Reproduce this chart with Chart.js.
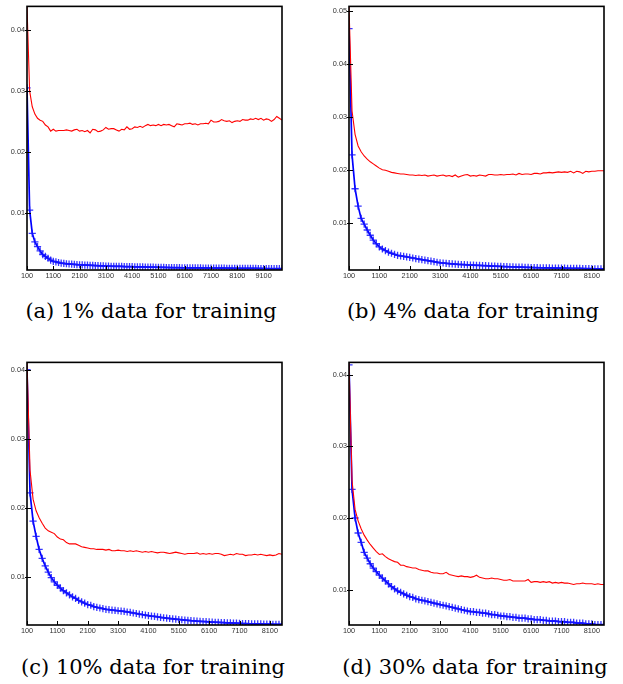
<!DOCTYPE html>
<html>
<head>
<meta charset="utf-8">
<script src="https://cdn.jsdelivr.net/npm/chart.js@4.4.1/dist/chart.umd.min.js"></script>
<style>
  html, body { margin: 0; padding: 0; background: #fff; }
  #wrap { position: relative; width: 623px; height: 684px; overflow: hidden; }
  canvas { position: absolute; }
  .cap { position: absolute; width: 320px; text-align: center; font-family: "DejaVu Serif", serif; font-size: 21px; line-height: 24px; color: #000; white-space: nowrap; }
</style>
</head>
<body>
<div id="wrap">
  <canvas id="ca" width="300" height="290" style="left:0px;top:0px"></canvas>
  <canvas id="cb" width="300" height="290" style="left:322px;top:0px"></canvas>
  <canvas id="cc" width="300" height="290" style="left:0px;top:356px"></canvas>
  <canvas id="cd" width="300" height="290" style="left:322px;top:356px"></canvas>
  <div class="cap" style="left:-9px;top:299px">(a) 1% data for training</div>
  <div class="cap" style="left:313px;top:299px">(b) 4% data for training</div>
  <div class="cap" style="left:-7px;top:655px">(c) 10% data for training</div>
  <div class="cap" style="left:315px;top:655px">(d) 30% data for training</div>
</div>
<script>
// ---------- x positions (iterations) ----------
const xA = [100,200,300,400,500,600,700,800,900,1000,
  1100,1200,1300,1400,1500,1600,1700,1800,1900,2000,
  2100,2200,2300,2400,2500,2600,2700,2800,2900,3000,
  3100,3200,3300,3400,3500,3600,3700,3800,3900,4000,
  4100,4200,4300,4400,4500,4600,4700,4800,4900,5000,
  5100,5200,5300,5400,5500,5600,5700,5800,5900,6000,
  6100,6200,6300,6400,6500,6600,6700,6800,6900,7000,
  7100,7200,7300,7400,7500,7600,7700,7800,7900,8000,
  8100,8200,8300,8400,8500,8600,8700,8800,8900,9000,
  9100,9200,9300,9400,9500,9600,9700,9800];
const xBCD = [100,200,300,400,500,600,700,800,900,1000,
  1100,1200,1300,1400,1500,1600,1700,1800,1900,2000,
  2100,2200,2300,2400,2500,2600,2700,2800,2900,3000,
  3100,3200,3300,3400,3500,3600,3700,3800,3900,4000,
  4100,4200,4300,4400,4500,4600,4700,4800,4900,5000,
  5100,5200,5300,5400,5500,5600,5700,5800,5900,6000,
  6100,6200,6300,6400,6500,6600,6700,6800,6900,7000,
  7100,7200,7300,7400,7500,7600,7700,7800,7900,8000,
  8100,8200,8300,8400,8500];

// ---------- tick labels ----------
const xTicksA = [100,1100,2100,3100,4100,5100,6100,7100,8100,9100];
const xTicksBCD = [100,1100,2100,3100,4100,5100,6100,7100,8100];
const yTicksA = [0.01,0.02,0.03,0.04];
const yTicksB = [0.01,0.02,0.03,0.04,0.05];
const yTicksC = [0.01,0.02,0.03,0.04];
const yTicksD = [0.01,0.02,0.03,0.04];

// ---------- (a) 1% ----------
const redA = [0.0439,0.0300,0.0274,0.0262,0.0255,0.0252,0.0250,0.0244,0.0241,0.0234,
  0.0237,0.0234,0.0235,0.0235,0.0235,0.0236,0.0235,0.0234,0.0236,0.0237,
  0.0234,0.0235,0.0233,0.0235,0.0231,0.0237,0.0236,0.0233,0.0234,0.0236,
  0.0240,0.0237,0.0238,0.0238,0.0236,0.0234,0.0237,0.0236,0.0241,0.0237,
  0.0238,0.0241,0.0240,0.0242,0.0240,0.0243,0.0245,0.0243,0.0244,0.0243,
  0.0245,0.0243,0.0245,0.0244,0.0245,0.0243,0.0241,0.0246,0.0245,0.0244,
  0.0246,0.0246,0.0247,0.0245,0.0246,0.0244,0.0246,0.0246,0.0247,0.0246,
  0.0252,0.0249,0.0249,0.0250,0.0253,0.0251,0.0250,0.0251,0.0248,0.0250,
  0.0251,0.0250,0.0253,0.0252,0.0252,0.0254,0.0253,0.0255,0.0253,0.0255,
  0.0252,0.0254,0.0253,0.0250,0.0253,0.0258,0.0255,0.0252];
const blueA = [0.0305,0.0104,0.0066,0.0052,0.0044,0.0037,0.0031,0.0028,0.0025,0.0022,
  0.0020,0.0019,0.0018,0.0017,0.00165,0.0016,0.00156,0.00152,0.00149,0.00146,
  0.00143,0.0014,0.00138,0.00136,0.00134,0.00132,0.0013,0.00128,0.00126,0.00124,
  0.00122,0.0012,0.00119,0.00118,0.00117,0.00116,0.00115,0.00114,0.00113,0.00112,
  0.00111,0.0011,0.00109,0.00108,0.00107,0.00106,0.00105,0.00104,0.00103,0.00102,
  0.00101,0.001,0.00099,0.00098,0.00098,0.00097,0.00096,0.00096,0.00095,0.00094,
  0.00094,0.00093,0.00093,0.00092,0.00092,0.00091,0.00091,0.0009,0.0009,0.00089,
  0.00089,0.00088,0.00088,0.00088,0.00087,0.00087,0.00086,0.00086,0.00086,0.00085,
  0.00085,0.00085,0.00084,0.00084,0.00084,0.00083,0.00083,0.00083,0.00082,0.00082,
  0.00082,0.00081,0.00081,0.00081,0.0008,0.0008,0.0008,0.0008];

// ---------- (b) 4% ----------
const redB = [0.0509,0.0311,0.0267,0.0245,0.0234,0.0226,0.0220,0.0215,0.0211,0.0207,
  0.0203,0.0200,0.0199,0.0197,0.0195,0.0194,0.0193,0.0192,0.0192,0.0191,
  0.0190,0.0190,0.0189,0.0190,0.0189,0.0190,0.0188,0.0189,0.0190,0.0188,
  0.0189,0.0190,0.0188,0.0189,0.0187,0.0190,0.0186,0.0188,0.0190,0.0191,
  0.0188,0.0189,0.0188,0.0190,0.0189,0.0188,0.0191,0.0191,0.0190,0.0190,
  0.0191,0.0190,0.0191,0.0191,0.0192,0.0190,0.0193,0.0191,0.0192,0.0192,
  0.0191,0.0193,0.0193,0.0192,0.0194,0.0194,0.0195,0.0194,0.0195,0.0196,
  0.0195,0.0196,0.0195,0.0197,0.0194,0.0197,0.0196,0.0193,0.0197,0.0196,
  0.0197,0.0197,0.0198,0.0198,0.0198];
const blueB = [0.0467,0.0228,0.0164,0.0131,0.0108,0.0097,0.0086,0.0076,0.0067,0.0060,
  0.0054,0.0050,0.0047,0.0044,0.0042,0.0040,0.0038,0.0037,0.0036,0.0035,
  0.0034,0.0033,0.0032,0.0031,0.0030,0.0029,0.0028,0.0027,0.0026,0.0025,
  0.0024,0.00235,0.0023,0.00225,0.0022,0.00215,0.0021,0.00207,0.00204,0.0020,
  0.00198,0.00195,0.00192,0.0019,0.00187,0.00184,0.00181,0.00178,0.00175,0.00172,
  0.0017,0.00168,0.00166,0.00164,0.00162,0.0016,0.00158,0.00156,0.00154,0.00152,
  0.0015,0.00148,0.00147,0.00146,0.00145,0.00144,0.00142,0.00141,0.0014,0.00139,
  0.00138,0.00137,0.00136,0.00135,0.00134,0.00133,0.00132,0.00131,0.0013,0.00129,
  0.00128,0.00127,0.00126,0.00125,0.00124];

// ---------- (c) 10% ----------
const redC = [0.0412,0.0255,0.0213,0.0196,0.0186,0.0178,0.0171,0.0167,0.0165,0.0163,
  0.0158,0.0155,0.0154,0.0150,0.0148,0.0148,0.0148,0.0146,0.0144,0.0143,
  0.0142,0.0141,0.0141,0.0140,0.0140,0.0140,0.0139,0.0140,0.0138,0.0138,
  0.0139,0.0138,0.0138,0.0137,0.0138,0.0137,0.0138,0.0137,0.0136,0.0137,
  0.0136,0.0137,0.0136,0.0135,0.0136,0.0136,0.0135,0.0134,0.0135,0.0136,
  0.0135,0.0134,0.0133,0.0134,0.0134,0.0134,0.0135,0.0133,0.0134,0.0133,
  0.0134,0.0133,0.0134,0.0134,0.0133,0.0131,0.0132,0.0133,0.0132,0.0134,
  0.0133,0.0133,0.0131,0.0132,0.0132,0.0133,0.0132,0.0133,0.0132,0.0131,
  0.0132,0.0131,0.0132,0.0134,0.0133];
const blueC = [0.0401,0.0222,0.0181,0.0159,0.0140,0.0127,0.0116,0.0107,0.0099,0.0093,
  0.0088,0.0084,0.0080,0.0077,0.0074,0.0071,0.0069,0.0066,0.0064,0.0062,
  0.0060,0.0059,0.0057,0.0056,0.0055,0.0054,0.0053,0.00525,0.0052,0.00515,
  0.0051,0.00505,0.0050,0.00492,0.00485,0.00477,0.0047,0.00462,0.00455,0.00447,
  0.0044,0.00433,0.00427,0.0042,0.00414,0.00408,0.00402,0.00397,0.00392,0.00387,
  0.00383,0.00379,0.00375,0.00371,0.00367,0.00364,0.0036,0.00357,0.00354,0.00351,
  0.00348,0.00346,0.00343,0.00341,0.00339,0.00337,0.00335,0.00333,0.00331,0.00329,
  0.00327,0.00325,0.00324,0.00322,0.00321,0.0032,0.00319,0.00318,0.00317,0.00316,
  0.00315,0.00314,0.00313,0.00312,0.00311];

// ---------- (d) 30% ----------
const redD = [0.0418,0.0252,0.0212,0.0196,0.0185,0.0176,0.0169,0.0163,0.0158,0.0153,
  0.0149,0.0150,0.0146,0.0143,0.0141,0.0139,0.0138,0.0134,0.0134,0.0132,
  0.0131,0.0130,0.0130,0.0128,0.0127,0.0126,0.0126,0.0124,0.0123,0.0123,
  0.0122,0.0122,0.0124,0.0121,0.0120,0.0119,0.0118,0.0119,0.0118,0.0118,
  0.0117,0.0118,0.0120,0.0117,0.0116,0.0115,0.0115,0.0116,0.0115,0.0115,
  0.0114,0.0113,0.0113,0.0114,0.0112,0.0112,0.0112,0.0112,0.0112,0.0114,
  0.0110,0.0111,0.0111,0.0110,0.0111,0.0110,0.0111,0.0109,0.0110,0.0109,
  0.0110,0.0109,0.0109,0.0108,0.0107,0.0108,0.0108,0.0109,0.0108,0.0108,
  0.0108,0.0107,0.0108,0.0107,0.0107];
const blueD = [0.0414,0.0240,0.0200,0.0179,0.0166,0.0152,0.0144,0.0136,0.0130,0.0125,
  0.0120,0.0116,0.0112,0.0108,0.0104,0.0101,0.0098,0.0096,0.0094,0.0092,
  0.0090,0.0089,0.0087,0.0086,0.0085,0.0084,0.0083,0.0082,0.0081,0.0080,
  0.0079,0.0078,0.0077,0.0076,0.0075,0.0074,0.0073,0.0072,0.0071,0.0070,
  0.0069,0.0069,0.0068,0.0068,0.0067,0.0067,0.0066,0.0065,0.0065,0.0064,
  0.0063,0.0063,0.0062,0.0062,0.0061,0.0061,0.0060,0.0060,0.0060,0.0059,
  0.0059,0.0058,0.0058,0.0058,0.0057,0.0057,0.0056,0.0056,0.0056,0.0055,
  0.0055,0.0055,0.0054,0.0054,0.0054,0.0053,0.0053,0.0053,0.0052,0.0052,
  0.0052,0.0051,0.0051,0.0051,0.0051];

// ---------- drawing ----------
const framePlugin = {
  id: 'frame',
  afterDatasetsDraw(chart) {
    const {ctx, chartArea: a, scales: {x, y}} = chart;
    ctx.save();
    ctx.strokeStyle = '#000';
    ctx.lineWidth = 1;
    ctx.beginPath();
    x.ticks.forEach(t => {
      const px = Math.round(x.getPixelForValue(t.value)) + 0.5;
      ctx.moveTo(px, a.bottom); ctx.lineTo(px, a.bottom - 4);
    });
    y.ticks.forEach(t => {
      const py = Math.round(y.getPixelForValue(t.value)) + 0.5;
      ctx.moveTo(a.left - 2, py); ctx.lineTo(a.left + 4, py);
    });
    ctx.stroke();
    ctx.lineWidth = 1.6;
    ctx.strokeRect(a.left, a.top, a.right - a.left, a.bottom - a.top);
    ctx.restore();
  }
};

const tickFont = {family: '"Liberation Sans", Arial, sans-serif', size: 7.3};

function panel(id, xs, red, blue, xTicks, yTicks, ymin, ymax, pad) {
  new Chart(document.getElementById(id), {
    type: 'line',
    data: {
      labels: xs,
      datasets: [
        {data: red, borderColor: '#ff0000', borderWidth: 1.1, pointRadius: 0, tension: 0, fill: false},
        {data: blue, borderColor: '#0000ff', borderWidth: 1.7, pointStyle: 'cross', pointRadius: 3.6,
         pointBorderWidth: 1.3, pointBorderColor: 'rgba(20,20,255,0.85)', pointBackgroundColor: '#0000ff',
         tension: 0, fill: false}
      ]
    },
    options: {
      responsive: false,
      animation: false,
      events: [],
      layout: {padding: pad},
      plugins: {legend: {display: false}, tooltip: {enabled: false}},
      scales: {
        x: {
          type: 'linear', min: xs[0], max: xs[xs.length - 1],
          grid: {display: false, drawTicks: false}, border: {display: false},
          ticks: {font: tickFont, color: '#333', padding: 2, maxRotation: 0, autoSkip: false,
                  callback: v => String(v)},
          afterBuildTicks: s => { s.ticks = xTicks.map(v => ({value: v})); },
          afterFit: s => { s.height = 12; }
        },
        y: {
          min: ymin, max: ymax,
          grid: {display: false, drawTicks: false}, border: {display: false},
          ticks: {font: tickFont, color: '#333', padding: 2, callback: v => v.toFixed(2)},
          afterBuildTicks: s => { s.ticks = yTicks.map(v => ({value: v})); },
          afterFit: s => { s.width = 27; }
        }
      }
    },
    plugins: [framePlugin]
  });
}

panel('ca', xA, redA, blueA, xTicksA, yTicksA, 0.00057, 0.0439, {top: 5, right: 18, bottom: 8, left: 0});
panel('cb', xBCD, redB, blueB, xTicksBCD, yTicksB, 0.00103, 0.0509, {top: 5, right: 18, bottom: 8, left: 0});
panel('cc', xBCD, redC, blueC, xTicksBCD, yTicksC, 0.00303, 0.04115, {top: 5, right: 18, bottom: 9, left: 0});
panel('cd', xBCD, redD, blueD, xTicksBCD, yTicksD, 0.00504, 0.04175, {top: 5, right: 18, bottom: 9, left: 0});
</script>
</body>
</html>
